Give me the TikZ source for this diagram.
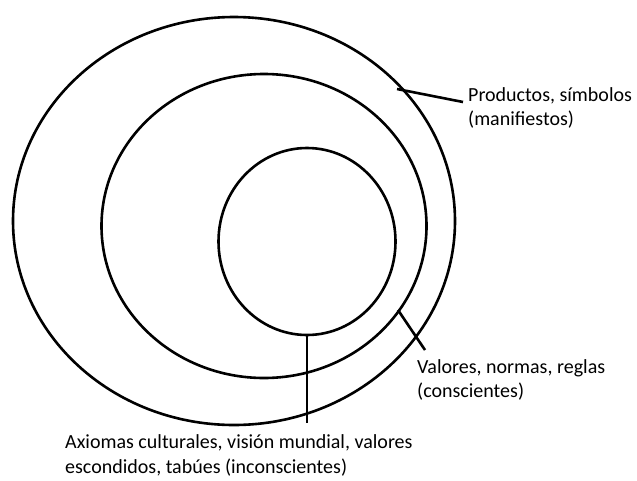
\documentclass[tikz,border=0pt]{standalone}
\usepackage{fontspec}
\setmainfont{Carlito}
\usetikzlibrary{shapes.geometric}

\begin{document}
\begin{tikzpicture}[x=1pt, y=-1pt]
  \tikzset{ring/.style={draw, ellipse, line width=2.6pt, inner sep=0pt},
           lead/.style={line width=2.6pt},
           tag/.style={align=left, inner sep=0pt, font=\fontsize{20}{24.5}\selectfont}}
  \useasboundingbox (0,0) rectangle (637,480);
  % the three layers
  \node[ring, minimum width=442pt, minimum height=408pt] (outer)  at (234,221) {};
  \node[ring, minimum width=325pt, minimum height=304pt] (middle) at (264,226) {};
  \node[ring, minimum width=177pt, minimum height=187pt] (inner)  at (307,241.5) {};
  % labels (base = last line)
  \node[tag, anchor=base west] (prod) at (468,125.5) {Productos, símbolos\\(manifiestos)};
  \node[tag, anchor=base west] (val)  at (417,397.5) {Valores, normas, reglas\\(conscientes)};
  \node[tag, anchor=base west] (axi)  at (65,473)    {Axiomas culturales, visión mundial, valores\\escondidos, tabúes (inconscientes)};
  % leaders
  \coordinate (prodA) at (397,89);
  \coordinate (prodB) at (463,102);
  \coordinate (valA)  at (398,310);
  \coordinate (valB)  at (425,350);
  \coordinate (axiB)  at (307,423);
  \draw[lead] (prodA) -- (prodB);
  \draw[lead] (valA) -- (valB);
  \draw[lead] (inner.south) -- (axiB);
\end{tikzpicture}
\end{document}
